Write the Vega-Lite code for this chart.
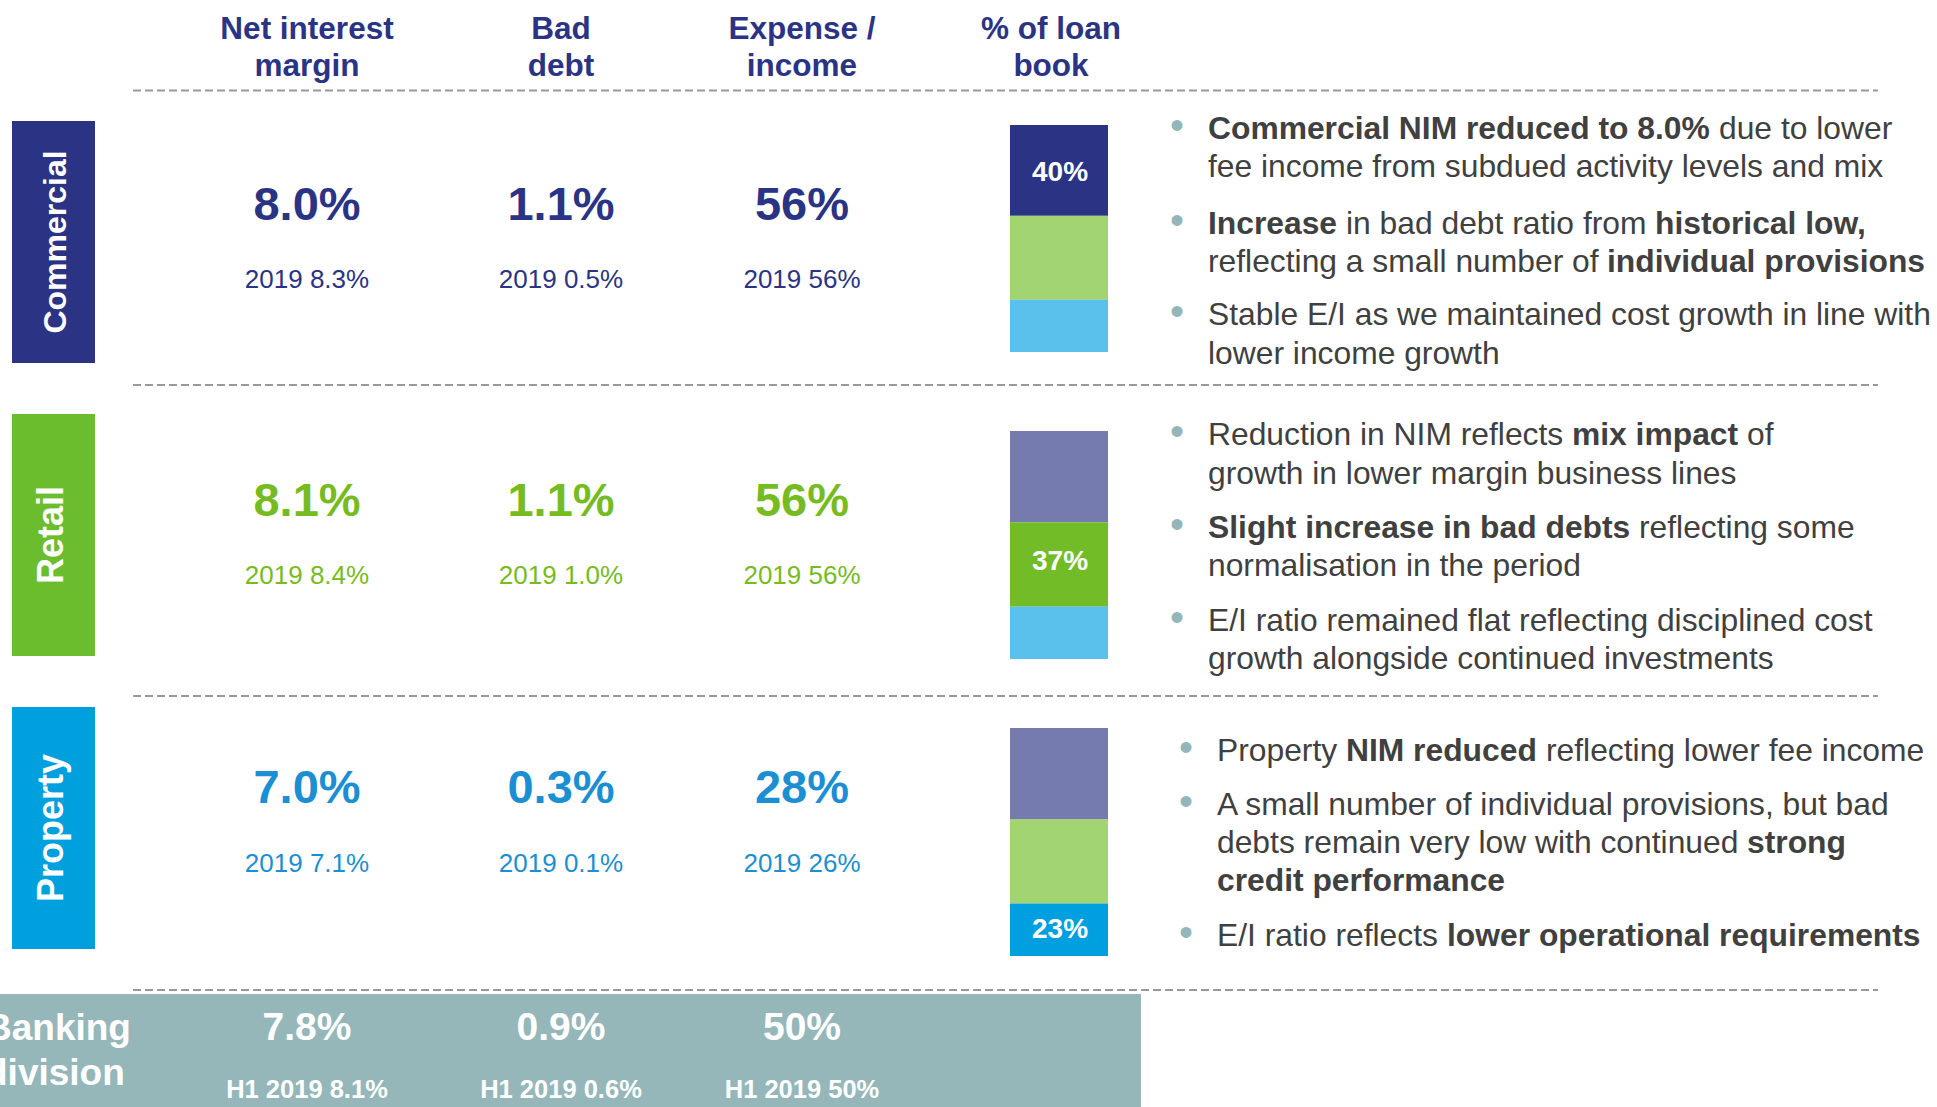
{
  "$schema": "https://vega.github.io/schema/vega-lite/v6.json",
  "width": 1937,
  "height": 1107,
  "autosize": "none",
  "padding": 0,
  "background": "#ffffff",
  "config": {
    "view": {"stroke": null},
    "legend": {"disable": true},
    "text": {"font": "Liberation Sans, Arial, sans-serif"}
  },
  "datasets": {
    "headers": [
      {"metric": "Net interest margin", "col": 0, "line": 1, "text": "Net interest"},
      {"metric": "Net interest margin", "col": 0, "line": 2, "text": "margin"},
      {"metric": "Bad debt", "col": 1, "line": 1, "text": "Bad"},
      {"metric": "Bad debt", "col": 1, "line": 2, "text": "debt"},
      {"metric": "Expense / income", "col": 2, "line": 1, "text": "Expense /"},
      {"metric": "Expense / income", "col": 2, "line": 2, "text": "income"},
      {"metric": "% of loan book", "col": 3, "line": 1, "text": "% of loan"},
      {"metric": "% of loan book", "col": 3, "line": 2, "text": "book"}
    ],
    "metrics": [
      {"segment": "Commercial", "row": 0, "metric": "Net interest margin", "col": 0, "current": "8.0%", "prior": "2019 8.3%"},
      {"segment": "Commercial", "row": 0, "metric": "Bad debt", "col": 1, "current": "1.1%", "prior": "2019 0.5%"},
      {"segment": "Commercial", "row": 0, "metric": "Expense / income", "col": 2, "current": "56%", "prior": "2019 56%"},
      {"segment": "Retail", "row": 1, "metric": "Net interest margin", "col": 0, "current": "8.1%", "prior": "2019 8.4%"},
      {"segment": "Retail", "row": 1, "metric": "Bad debt", "col": 1, "current": "1.1%", "prior": "2019 1.0%"},
      {"segment": "Retail", "row": 1, "metric": "Expense / income", "col": 2, "current": "56%", "prior": "2019 56%"},
      {"segment": "Property", "row": 2, "metric": "Net interest margin", "col": 0, "current": "7.0%", "prior": "2019 7.1%"},
      {"segment": "Property", "row": 2, "metric": "Bad debt", "col": 1, "current": "0.3%", "prior": "2019 0.1%"},
      {"segment": "Property", "row": 2, "metric": "Expense / income", "col": 2, "current": "28%", "prior": "2019 26%"},
      {"segment": "Banking division", "row": 3, "metric": "Net interest margin", "col": 0, "current": "7.8%", "prior": "H1 2019 8.1%"},
      {"segment": "Banking division", "row": 3, "metric": "Bad debt", "col": 1, "current": "0.9%", "prior": "H1 2019 0.6%"},
      {"segment": "Banking division", "row": 3, "metric": "Expense / income", "col": 2, "current": "50%", "prior": "H1 2019 50%"}
    ],
    "loanbook": [
      {"segment": "Commercial", "share": 0.40},
      {"segment": "Retail", "share": 0.37},
      {"segment": "Property", "share": 0.23}
    ],
    "separators": [
      {"boundary": 0, "between": "header / Commercial"},
      {"boundary": 1, "between": "Commercial / Retail"},
      {"boundary": 2, "between": "Retail / Property"},
      {"boundary": 3, "between": "Property / Banking division"}
    ],
    "banking_label": [
      {"line": 1, "text": "Banking"},
      {"line": 2, "text": "division"}
    ],
    "bullets": [
      {"segment": "Commercial", "line": 0, "x": 1208, "emphasis": "bold", "lead": true, "text": "Commercial NIM reduced to 8.0%"},
      {"segment": "Commercial", "line": 0, "x": 1719, "emphasis": "regular", "lead": false, "text": "due to lower"},
      {"segment": "Commercial", "line": 1, "x": 1208, "emphasis": "regular", "lead": false, "text": "fee income from subdued activity levels and mix"},
      {"segment": "Commercial", "line": 2, "x": 1208, "emphasis": "bold", "lead": true, "text": "Increase"},
      {"segment": "Commercial", "line": 2, "x": 1346, "emphasis": "regular", "lead": false, "text": "in bad debt ratio from"},
      {"segment": "Commercial", "line": 2, "x": 1655, "emphasis": "bold", "lead": false, "text": "historical low,"},
      {"segment": "Commercial", "line": 3, "x": 1208, "emphasis": "regular", "lead": false, "text": "reflecting a small number of"},
      {"segment": "Commercial", "line": 3, "x": 1607, "emphasis": "bold", "lead": false, "text": "individual provisions"},
      {"segment": "Commercial", "line": 4, "x": 1208, "emphasis": "regular", "lead": true, "text": "Stable E/I as we maintained cost growth in line with"},
      {"segment": "Commercial", "line": 5, "x": 1208, "emphasis": "regular", "lead": false, "text": "lower income growth"},
      {"segment": "Retail", "line": 6, "x": 1208, "emphasis": "regular", "lead": true, "text": "Reduction in NIM reflects"},
      {"segment": "Retail", "line": 6, "x": 1572, "emphasis": "bold", "lead": false, "text": "mix impact"},
      {"segment": "Retail", "line": 6, "x": 1747, "emphasis": "regular", "lead": false, "text": "of"},
      {"segment": "Retail", "line": 7, "x": 1208, "emphasis": "regular", "lead": false, "text": "growth in lower margin business lines"},
      {"segment": "Retail", "line": 8, "x": 1208, "emphasis": "bold", "lead": true, "text": "Slight increase in bad debts"},
      {"segment": "Retail", "line": 8, "x": 1639, "emphasis": "regular", "lead": false, "text": "reflecting some"},
      {"segment": "Retail", "line": 9, "x": 1208, "emphasis": "regular", "lead": false, "text": "normalisation in the period"},
      {"segment": "Retail", "line": 10, "x": 1208, "emphasis": "regular", "lead": true, "text": "E/I ratio remained flat reflecting disciplined cost"},
      {"segment": "Retail", "line": 11, "x": 1208, "emphasis": "regular", "lead": false, "text": "growth alongside continued investments"},
      {"segment": "Property", "line": 12, "x": 1217, "emphasis": "regular", "lead": true, "text": "Property"},
      {"segment": "Property", "line": 12, "x": 1346, "emphasis": "bold", "lead": false, "text": "NIM reduced"},
      {"segment": "Property", "line": 12, "x": 1546, "emphasis": "regular", "lead": false, "text": "reflecting lower fee income"},
      {"segment": "Property", "line": 13, "x": 1217, "emphasis": "regular", "lead": true, "text": "A small number of individual provisions, but bad"},
      {"segment": "Property", "line": 14, "x": 1217, "emphasis": "regular", "lead": false, "text": "debts remain very low with continued"},
      {"segment": "Property", "line": 14, "x": 1747, "emphasis": "bold", "lead": false, "text": "strong"},
      {"segment": "Property", "line": 15, "x": 1217, "emphasis": "bold", "lead": false, "text": "credit performance"},
      {"segment": "Property", "line": 16, "x": 1217, "emphasis": "regular", "lead": true, "text": "E/I ratio reflects"},
      {"segment": "Property", "line": 16, "x": 1447, "emphasis": "bold", "lead": false, "text": "lower operational requirements"}
    ]
  },
  "resolve": {"scale": {"x": "independent", "y": "independent", "color": "independent", "opacity": "independent"}},
  "layer": [
    {
      "data": {"values": [{"panel": "Banking division"}]},
      "mark": {"type": "rect", "color": "#96b7ba"},
      "encoding": {
        "x": {"datum": 0, "type": "quantitative", "scale": {"domain": [0, 1937], "zero": false, "nice": false}, "axis": null},
        "x2": {"datum": 1141},
        "y": {"datum": 994, "type": "quantitative", "scale": {"domain": [0, 1107], "reverse": true, "zero": false, "nice": false}, "axis": null},
        "y2": {"datum": 1107}
      }
    },
    {
      "data": {"name": "loanbook"},
      "layer": [
        {
          "mark": {"type": "rect"},
          "encoding": {
            "x": {"datum": 12, "type": "quantitative", "scale": {"domain": [0, 1937], "zero": false, "nice": false}, "axis": null},
            "x2": {"datum": 95},
            "y": {"field": "segment", "type": "nominal", "scale": {"type": "band", "domain": ["Commercial", "Retail", "Property"], "range": [121, 949], "paddingInner": 0.174, "paddingOuter": 0}, "axis": null},
            "color": {"field": "segment", "type": "nominal", "scale": {"domain": ["Commercial", "Retail", "Property"], "range": ["#2b3384", "#6cbd2d", "#00a0df"]}, "legend": null}
          }
        },
        {
          "transform": [{"filter": "datum.segment === 'Commercial'"}],
          "mark": {"type": "text", "angle": 270, "fontSize": 32, "fontWeight": "bold", "color": "#ffffff", "align": "center", "baseline": "alphabetic"},
          "encoding": {
            "x": {"datum": 66, "type": "quantitative", "scale": {"domain": [0, 1937], "zero": false, "nice": false}, "axis": null},
            "y": {"field": "segment", "type": "nominal", "scale": {"type": "band", "domain": ["Commercial", "Retail", "Property"], "range": [121, 949], "paddingInner": 0.174, "paddingOuter": 0}, "axis": null},
            "text": {"field": "segment"}
          }
        },
        {
          "transform": [{"filter": "datum.segment !== 'Commercial'"}],
          "mark": {"type": "text", "angle": 270, "fontSize": 36, "fontWeight": "bold", "color": "#ffffff", "align": "center", "baseline": "alphabetic"},
          "encoding": {
            "x": {"datum": 63, "type": "quantitative", "scale": {"domain": [0, 1937], "zero": false, "nice": false}, "axis": null},
            "y": {"field": "segment", "type": "nominal", "scale": {"type": "band", "domain": ["Commercial", "Retail", "Property"], "range": [121, 949], "paddingInner": 0.174, "paddingOuter": 0}, "axis": null},
            "text": {"field": "segment"}
          }
        }
      ]
    },
    {
      "data": {"name": "separators"},
      "mark": {"type": "rule", "color": "#999999", "strokeWidth": 2, "strokeDash": [8, 4]},
      "encoding": {
        "x": {"datum": 133, "type": "quantitative", "scale": {"domain": [0, 1937], "zero": false, "nice": false}, "axis": null},
        "x2": {"datum": 1878},
        "y": {"field": "boundary", "type": "quantitative", "scale": {"domain": [0, 1, 2, 3], "range": [90.5, 385, 696, 990], "zero": false, "nice": false}, "axis": null}
      }
    },
    {
      "data": {"name": "headers"},
      "mark": {"type": "text", "fontSize": 31.5, "fontWeight": "bold", "color": "#2b3384", "align": "center", "baseline": "alphabetic"},
      "encoding": {
        "x": {"field": "col", "type": "quantitative", "scale": {"domain": [0, 1, 2, 3], "range": [307, 561, 802, 1051], "zero": false, "nice": false}, "axis": null},
        "y": {"field": "line", "type": "quantitative", "scale": {"domain": [1, 2], "range": [39, 76], "zero": false, "nice": false}, "axis": null},
        "text": {"field": "text"}
      }
    },
    {
      "data": {"name": "metrics"},
      "layer": [
        {
          "transform": [{"filter": "datum.segment !== 'Banking division'"}],
          "mark": {"type": "text", "fontSize": 47, "fontWeight": "bold", "align": "center", "baseline": "alphabetic"},
          "encoding": {
            "x": {"field": "col", "type": "quantitative", "scale": {"domain": [0, 1, 2], "range": [307, 561, 802], "zero": false, "nice": false}, "axis": null},
            "y": {"field": "row", "type": "quantitative", "scale": {"domain": [0, 1, 2, 3], "range": [220, 516, 803, 1040], "zero": false, "nice": false}, "axis": null},
            "color": {"field": "segment", "type": "nominal", "scale": {"domain": ["Commercial", "Retail", "Property", "Banking division"], "range": ["#2b3384", "#76bc21", "#1b8fd2", "#ffffff"]}, "legend": null},
            "text": {"field": "current"}
          }
        },
        {
          "transform": [{"filter": "datum.segment === 'Banking division'"}],
          "mark": {"type": "text", "fontSize": 39, "fontWeight": "bold", "align": "center", "baseline": "alphabetic"},
          "encoding": {
            "x": {"field": "col", "type": "quantitative", "scale": {"domain": [0, 1, 2], "range": [307, 561, 802], "zero": false, "nice": false}, "axis": null},
            "y": {"field": "row", "type": "quantitative", "scale": {"domain": [0, 1, 2, 3], "range": [220, 516, 803, 1040], "zero": false, "nice": false}, "axis": null},
            "color": {"field": "segment", "type": "nominal", "scale": {"domain": ["Commercial", "Retail", "Property", "Banking division"], "range": ["#2b3384", "#76bc21", "#1b8fd2", "#ffffff"]}, "legend": null},
            "text": {"field": "current"}
          }
        }
      ]
    },
    {
      "data": {"name": "metrics"},
      "layer": [
        {
          "transform": [{"filter": "datum.segment !== 'Banking division'"}],
          "mark": {"type": "text", "fontSize": 26, "align": "center", "baseline": "alphabetic"},
          "encoding": {
            "x": {"field": "col", "type": "quantitative", "scale": {"domain": [0, 1, 2], "range": [307, 561, 802], "zero": false, "nice": false}, "axis": null},
            "y": {"field": "row", "type": "quantitative", "scale": {"domain": [0, 1, 2, 3], "range": [288, 584, 872, 1098], "zero": false, "nice": false}, "axis": null},
            "color": {"field": "segment", "type": "nominal", "scale": {"domain": ["Commercial", "Retail", "Property", "Banking division"], "range": ["#2b3384", "#76bc21", "#1b8fd2", "#ffffff"]}, "legend": null},
            "text": {"field": "prior"}
          }
        },
        {
          "transform": [{"filter": "datum.segment === 'Banking division'"}],
          "mark": {"type": "text", "fontSize": 25.5, "fontWeight": "bold", "align": "center", "baseline": "alphabetic"},
          "encoding": {
            "x": {"field": "col", "type": "quantitative", "scale": {"domain": [0, 1, 2], "range": [307, 561, 802], "zero": false, "nice": false}, "axis": null},
            "y": {"field": "row", "type": "quantitative", "scale": {"domain": [0, 1, 2, 3], "range": [288, 584, 872, 1098], "zero": false, "nice": false}, "axis": null},
            "color": {"field": "segment", "type": "nominal", "scale": {"domain": ["Commercial", "Retail", "Property", "Banking division"], "range": ["#2b3384", "#76bc21", "#1b8fd2", "#ffffff"]}, "legend": null},
            "text": {"field": "prior"}
          }
        }
      ]
    },
    {
      "data": {"name": "banking_label"},
      "mark": {"type": "text", "fontSize": 37, "fontWeight": "bold", "color": "#ffffff", "align": "left", "baseline": "alphabetic"},
      "encoding": {
        "x": {"datum": -15, "type": "quantitative", "scale": {"domain": [0, 1937], "zero": false, "nice": false}, "axis": null},
        "y": {"field": "line", "type": "quantitative", "scale": {"domain": [1, 2], "range": [1040, 1085], "zero": false, "nice": false}, "axis": null},
        "text": {"field": "text"}
      }
    },
    {
      "data": {"name": "loanbook"},
      "transform": [{"stack": "share", "groupby": [], "sort": [{"field": "share", "order": "ascending"}], "as": ["s0", "s1"]}],
      "layer": [
        {
          "mark": {"type": "rect"},
          "encoding": {
            "x": {"datum": 1010, "type": "quantitative", "scale": {"domain": [0, 1937], "zero": false, "nice": false}, "axis": null},
            "x2": {"datum": 1108},
            "y": {"field": "s0", "type": "quantitative", "scale": {"domain": [-3.326, 1.5507], "zero": false, "nice": false}, "axis": null},
            "y2": {"field": "s1"},
            "color": {"field": "segment", "type": "nominal", "scale": {"domain": ["Commercial", "Retail", "Property"], "range": ["#2b3384", "#72bd27", "#00a0e0"]}, "legend": null},
            "opacity": {"condition": {"test": "datum.segment === 'Commercial'", "value": 1}, "value": 0.65}
          }
        },
        {
          "transform": [{"filter": "datum.segment === 'Commercial'"}],
          "mark": {"type": "text", "dy": 48, "fontSize": 28, "fontWeight": "bold", "color": "#ffffff", "align": "center", "baseline": "middle"},
          "encoding": {
            "x": {"datum": 1060, "type": "quantitative", "scale": {"domain": [0, 1937], "zero": false, "nice": false}, "axis": null},
            "y": {"field": "s1", "type": "quantitative", "scale": {"domain": [-3.326, 1.5507], "zero": false, "nice": false}, "axis": null},
            "text": {"field": "share", "type": "quantitative", "format": ".0%"}
          }
        }
      ]
    },
    {
      "data": {"name": "loanbook"},
      "transform": [{"stack": "share", "groupby": [], "sort": [{"field": "share", "order": "ascending"}], "as": ["s0", "s1"]}],
      "layer": [
        {
          "mark": {"type": "rect"},
          "encoding": {
            "x": {"datum": 1010, "type": "quantitative", "scale": {"domain": [0, 1937], "zero": false, "nice": false}, "axis": null},
            "x2": {"datum": 1108},
            "y": {"field": "s0", "type": "quantitative", "scale": {"domain": [-1.9649, 2.8904], "zero": false, "nice": false}, "axis": null},
            "y2": {"field": "s1"},
            "color": {"field": "segment", "type": "nominal", "scale": {"domain": ["Commercial", "Retail", "Property"], "range": ["#2b3384", "#72bd27", "#00a0e0"]}, "legend": null},
            "opacity": {"condition": {"test": "datum.segment === 'Retail'", "value": 1}, "value": 0.65}
          }
        },
        {
          "transform": [{"filter": "datum.segment === 'Retail'"}],
          "mark": {"type": "text", "dy": 40, "fontSize": 28, "fontWeight": "bold", "color": "#ffffff", "align": "center", "baseline": "middle"},
          "encoding": {
            "x": {"datum": 1060, "type": "quantitative", "scale": {"domain": [0, 1937], "zero": false, "nice": false}, "axis": null},
            "y": {"field": "s1", "type": "quantitative", "scale": {"domain": [-1.9649, 2.8904], "zero": false, "nice": false}, "axis": null},
            "text": {"field": "share", "type": "quantitative", "format": ".0%"}
          }
        }
      ]
    },
    {
      "data": {"name": "loanbook"},
      "transform": [{"stack": "share", "groupby": [], "sort": [{"field": "share", "order": "ascending"}], "as": ["s0", "s1"]}],
      "layer": [
        {
          "mark": {"type": "rect"},
          "encoding": {
            "x": {"datum": 1010, "type": "quantitative", "scale": {"domain": [0, 1937], "zero": false, "nice": false}, "axis": null},
            "x2": {"datum": 1108},
            "y": {"field": "s0", "type": "quantitative", "scale": {"domain": [-0.6623, 4.193], "zero": false, "nice": false}, "axis": null},
            "y2": {"field": "s1"},
            "color": {"field": "segment", "type": "nominal", "scale": {"domain": ["Commercial", "Retail", "Property"], "range": ["#2b3384", "#72bd27", "#00a0e0"]}, "legend": null},
            "opacity": {"condition": {"test": "datum.segment === 'Property'", "value": 1}, "value": 0.65}
          }
        },
        {
          "transform": [{"filter": "datum.segment === 'Property'"}],
          "mark": {"type": "text", "dy": 26, "fontSize": 28, "fontWeight": "bold", "color": "#ffffff", "align": "center", "baseline": "middle"},
          "encoding": {
            "x": {"datum": 1060, "type": "quantitative", "scale": {"domain": [0, 1937], "zero": false, "nice": false}, "axis": null},
            "y": {"field": "s1", "type": "quantitative", "scale": {"domain": [-0.6623, 4.193], "zero": false, "nice": false}, "axis": null},
            "text": {"field": "share", "type": "quantitative", "format": ".0%"}
          }
        }
      ]
    },
    {
      "data": {"name": "bullets"},
      "layer": [
        {
          "transform": [{"filter": "datum.emphasis === 'regular'"}],
          "mark": {"type": "text", "fontSize": 31.8, "color": "#404040", "align": "left", "baseline": "alphabetic"},
          "encoding": {
            "x": {"field": "x", "type": "quantitative", "scale": {"domain": [0, 1937], "zero": false, "nice": false}, "axis": null},
            "y": {"field": "line", "type": "quantitative", "scale": {"domain": [0, 1, 2, 3, 4, 5, 6, 7, 8, 9, 10, 11, 12, 13, 14, 15, 16], "range": [139, 177, 234, 272, 325, 364, 445, 484, 538, 576, 631, 669, 761, 815, 853, 891, 946], "zero": false, "nice": false}, "axis": null},
            "text": {"field": "text"}
          }
        },
        {
          "transform": [{"filter": "datum.emphasis === 'bold'"}],
          "mark": {"type": "text", "fontSize": 31.8, "fontWeight": "bold", "color": "#404040", "align": "left", "baseline": "alphabetic"},
          "encoding": {
            "x": {"field": "x", "type": "quantitative", "scale": {"domain": [0, 1937], "zero": false, "nice": false}, "axis": null},
            "y": {"field": "line", "type": "quantitative", "scale": {"domain": [0, 1, 2, 3, 4, 5, 6, 7, 8, 9, 10, 11, 12, 13, 14, 15, 16], "range": [139, 177, 234, 272, 325, 364, 445, 484, 538, 576, 631, 669, 761, 815, 853, 891, 946], "zero": false, "nice": false}, "axis": null},
            "text": {"field": "text"}
          }
        },
        {
          "transform": [{"filter": "datum.lead"}],
          "mark": {"type": "text", "fontSize": 40, "color": "#93b6bb", "align": "center", "baseline": "alphabetic", "dx": -31},
          "encoding": {
            "x": {"field": "x", "type": "quantitative", "scale": {"domain": [0, 1937], "zero": false, "nice": false}, "axis": null},
            "y": {"field": "line", "type": "quantitative", "scale": {"domain": [0, 1, 2, 3, 4, 5, 6, 7, 8, 9, 10, 11, 12, 13, 14, 15, 16], "range": [139, 177, 234, 272, 325, 364, 445, 484, 538, 576, 631, 669, 761, 815, 853, 891, 946], "zero": false, "nice": false}, "axis": null},
            "text": {"value": "•"}
          }
        }
      ]
    }
  ]
}
